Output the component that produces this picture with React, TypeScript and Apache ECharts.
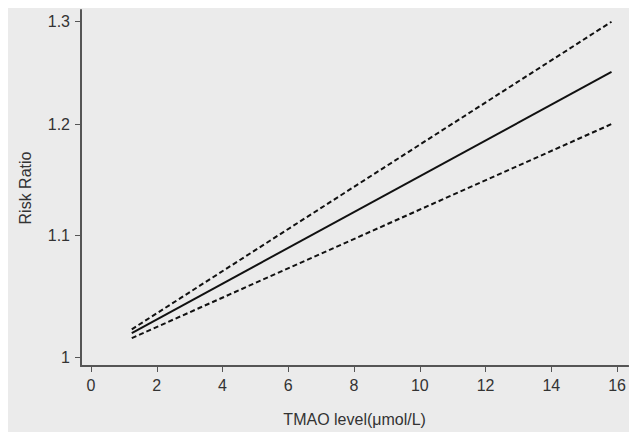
import React, { useEffect, useRef } from "react";
import * as echarts from "echarts";

// TMAO level (µmol/L) at the ends of the fitted curve
const tmaoLevels = [1.24, 15.83];
// Risk ratio estimate and 95% confidence limits
const rrEstimate = [1.019, 1.25];
const rrUpper = [1.022, 1.3];
const rrLower = [1.015, 1.2];

const xTicks = [0, 2, 4, 6, 8, 10, 12, 14, 16];
const yTicks = [1, 1.1, 1.2, 1.3];

const FONT = "'Liberation Sans', Arial, Helvetica, sans-serif";

export default function App() {
  const ref = useRef<HTMLDivElement>(null);

  useEffect(() => {
    if (!ref.current) return;
    const chart = echarts.init(ref.current, undefined, { renderer: "svg" });
    const toData = (ys: number[]) => tmaoLevels.map((x, i) => [x, Math.log(ys[i])]);
    const lineCol = "#111";
    const axisCol = "#555";
    const textCol = "#333";

    chart.setOption({
      animation: false,
      backgroundColor: "#ebebeb",
      grid: { left: 73, right: 0, top: 2, bottom: 61, containLabel: false },
      xAxis: {
        type: "value",
        min: -0.304,
        max: 16.34,
        name: "TMAO level(μmol/L)",
        nameLocation: "middle",
        nameGap: 45,
        nameTextStyle: { fontFamily: FONT, fontSize: 16, color: textCol },
        axisLine: { show: true, onZero: false, lineStyle: { color: axisCol, width: 2 } },
        axisTick: {
          show: true,
          customValues: xTicks,
          length: 6,
          lineStyle: { color: axisCol, width: 1 },
        },
        axisLabel: {
          customValues: xTicks,
          margin: 11,
          fontFamily: FONT,
          fontSize: 16,
          color: textCol,
        },
        splitLine: { show: false },
      },
      yAxis: {
        type: "value",
        min: Math.log(0.9931),
        max: Math.log(1.312),
        name: "Risk Ratio",
        nameLocation: "middle",
        nameGap: 48,
        nameTextStyle: { fontFamily: FONT, fontSize: 16, color: textCol },
        axisLine: { show: true, onZero: false, lineStyle: { color: axisCol, width: 2 } },
        axisTick: {
          show: true,
          customValues: yTicks.map((v) => Math.log(v)),
          length: 6,
          lineStyle: { color: axisCol, width: 1 },
        },
        axisLabel: {
          customValues: yTicks.map((v) => Math.log(v)),
          formatter: (v: number) => String(Number(Math.exp(v).toFixed(1))),
          margin: 11,
          fontFamily: FONT,
          fontSize: 16,
          color: textCol,
        },
        splitLine: { show: false },
      },
      series: [
        {
          type: "line",
          name: "Upper",
          data: toData(rrUpper),
          showSymbol: false,
          lineStyle: { color: lineCol, width: 2, type: [5, 3] },
        },
        {
          type: "line",
          name: "Estimate",
          data: toData(rrEstimate),
          showSymbol: false,
          lineStyle: { color: lineCol, width: 2, type: "solid" },
        },
        {
          type: "line",
          name: "Lower",
          data: toData(rrLower),
          showSymbol: false,
          lineStyle: { color: lineCol, width: 2, type: [5, 3] },
        },
      ],
    });
    return () => chart.dispose();
  }, []);

  return (
    <div
      ref={ref}
      style={{ position: "fixed", left: 8, top: 8, width: 621, height: 424 }}
    />
  );
}
